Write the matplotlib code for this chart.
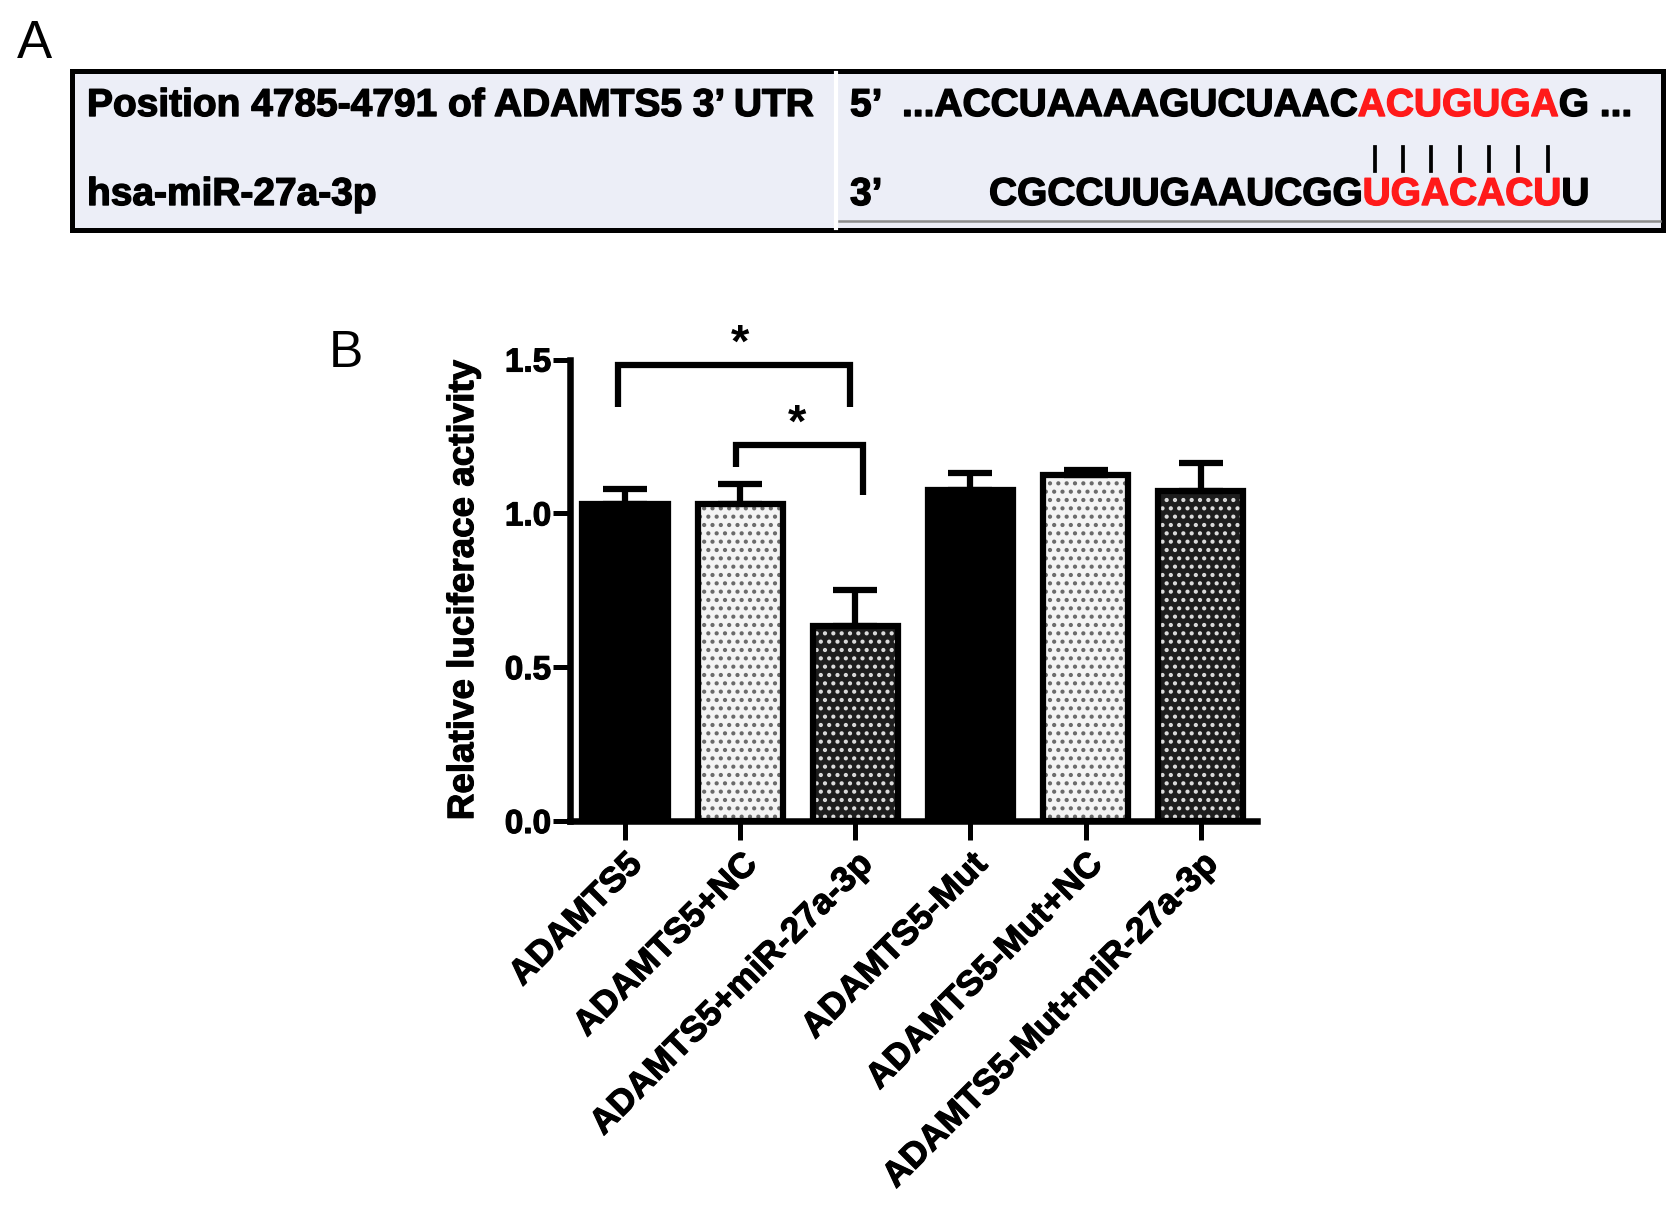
import matplotlib
matplotlib.use('Agg')
import matplotlib.pyplot as plt
import matplotlib.patheffects as pe
from matplotlib.font_manager import FontProperties
from matplotlib.patches import Rectangle

plt.rcParams['font.family'] = ['Liberation Sans', 'DejaVu Sans']
plt.rcParams['hatch.linewidth'] = 1.8

# ---- Panel A: secuencias
utr_label = 'Position 4785-4791 of ADAMTS5 3\u2019 UTR'
mir_label = 'hsa-miR-27a-3p'
utr_prefix = '5\u2019'
mir_prefix = '3\u2019'
utr_left = '...ACCUAAAAGUCUAAC'
utr_seed = 'ACUGUGA'
utr_right = 'G ...'
mir_left = 'CGCCUUGAAUCGG'
mir_seed = 'UGACACU'
mir_right = 'U'

# ---- Panel B: datos de luciferasa
groups = ['ADAMTS5', 'ADAMTS5+NC', 'ADAMTS5+miR-27a-3p',
          'ADAMTS5-Mut', 'ADAMTS5-Mut+NC', 'ADAMTS5-Mut+miR-27a-3p']
activity = [1.03, 1.03, 0.635, 1.075, 1.125, 1.073]
sem = [0.05, 0.065, 0.115, 0.055, 0.017, 0.09]
y_ticks = [0.0, 0.5, 1.0, 1.5]
y_tick_labels = ['0.0', '0.5', '1.0', '1.5']

# estilo de cada barra (relleno, color de puntos, patron)
face_colors = ['black', '#f4f4f4', '#1e1e1e', 'black', '#f4f4f4', '#1e1e1e']
dot_colors = ['black', '#6a6a6a', '#dcdcdc', 'black', '#6a6a6a', '#dcdcdc']
dot_hatch = ['', '..', '..', '', '..', '..']

# corchetes de significancia: (x izq, x der, altura, pata izq, pata der)
brackets = [(-0.06, 1.95, 1.482, 1.345, 1.345),
            (0.96, 2.07, 1.223, 1.15, 1.06)]
stars_x = [1.0, 1.49]
stars_y = [1.51, 1.25]

W, H = 1677, 1206
fig = plt.figure(figsize=(W / 100, H / 100), dpi=100)

# eje "lienzo" en pixeles para el panel A y las letras
axA = fig.add_axes([0, 0, 1, 1])
axA.set_xlim(0, W)
axA.set_ylim(H, 0)
axA.axis('off')

axA.add_patch(Rectangle((72, 71), 1591, 159, facecolor='#eceef7',
                        edgecolor='black', linewidth=3.6))
axA.plot([836, 836], [73, 228], color='white', lw=3)
axA.plot([839, 1660], [221, 221], color='#8c8c8c', lw=1.8)

fs = 28
red = '#ff1a1a'
fp = FontProperties(family='Liberation Sans', weight='bold', size=fs)
renderer = fig.canvas.get_renderer()


def ancho(s):
    w, h, d = renderer.get_text_width_height_descent(s, fp, ismath=False)
    return w


def poner(x, y, s, color='black', siguiente=None):
    # dibuja s y devuelve donde empieza el siguiente trozo
    axA.text(x, y, s, fontproperties=fp, color=color, ha='left', va='baseline',
             path_effects=[pe.withStroke(linewidth=1.0, foreground=color)])
    if siguiente:
        return x + ancho(s + siguiente) - ancho(siguiente)
    return x + ancho(s)


row1, row2 = 116, 205
poner(87, row1, utr_label)
poner(87, row2, mir_label)
poner(850, row1, utr_prefix)
poner(850, row2, mir_prefix)

x = poner(902, row1, utr_left, siguiente=utr_seed)
seed_start = x
x = poner(x, row1, utr_seed, red, siguiente=utr_right)
poner(x, row1, utr_right)

x = poner(989, row2, mir_left, siguiente=mir_seed)
x = poner(x, row2, mir_seed, red, siguiente=mir_right)
poner(x, row2, mir_right)

# lineas de apareamiento bajo cada base de la semilla
for i in range(len(utr_seed)):
    cx = seed_start + ancho(utr_seed[:i + 1]) - ancho(utr_seed[i]) / 2 + 3
    axA.plot([cx, cx], [147, 171], color='black', lw=2.7)

axA.text(17, 58, 'A', fontsize=38, ha='left', va='baseline')
axA.text(329, 367, 'B', fontsize=37, ha='left', va='baseline')

# ---- Panel B
ax = fig.add_axes([0.3399, 0.3192, 0.4097, 0.3827])
xs = list(range(len(groups)))
ax.bar(xs, activity, width=0.74, color=face_colors, linewidth=0, zorder=2)
dots = ax.bar(xs, activity, width=0.74, color='none', edgecolor=dot_colors,
              linewidth=0, zorder=3)
for p, h in zip(dots, dot_hatch):
    p.set_hatch(h)
ax.errorbar(xs, activity, yerr=[[0] * len(sem), sem], fmt='none', ecolor='black',
            elinewidth=4.5, capsize=16, capthick=4.5, zorder=4)
ax.bar(xs, activity, width=0.74, color='none', edgecolor='black',
       linewidth=4.5, zorder=5)

for xl, xr, top, yl, yr in brackets:
    ax.plot([xl, xl, xr, xr], [yl, top, top, yr], color='black', lw=4.5,
            clip_on=False, solid_joinstyle='miter', solid_capstyle='butt')
for sx, sy in zip(stars_x, stars_y):
    ax.text(sx, sy, '*', ha='center', va='baseline', fontsize=34,
            fontweight='bold', clip_on=False)

bold_fx = [pe.withStroke(linewidth=0.8, foreground='black')]
ax.set_xlim(-0.478, 5.49)
ax.set_ylim(0, 1.5)
ax.set_yticks(y_ticks, y_tick_labels, fontsize=24, fontweight='bold')
ax.set_xticks(xs, groups, rotation=45, ha='right', rotation_mode='anchor',
              fontsize=25.5, fontweight='bold')
for lab in ax.get_xticklabels() + ax.get_yticklabels():
    lab.set_path_effects(bold_fx)
ax.tick_params(axis='y', length=12, width=3.6, pad=1.5)
ax.tick_params(axis='x', length=14, width=3.6, pad=5)
ax.set_ylabel('Relative luciferace activity', fontsize=26.5, fontweight='bold',
              labelpad=17, path_effects=bold_fx)
for side in ['top', 'right']:
    ax.spines[side].set_visible(False)
for side in ['left', 'bottom']:
    ax.spines[side].set_linewidth(4.7)
    ax.spines[side].set_capstyle('projecting')

fig.savefig('out.png', dpi=100)
